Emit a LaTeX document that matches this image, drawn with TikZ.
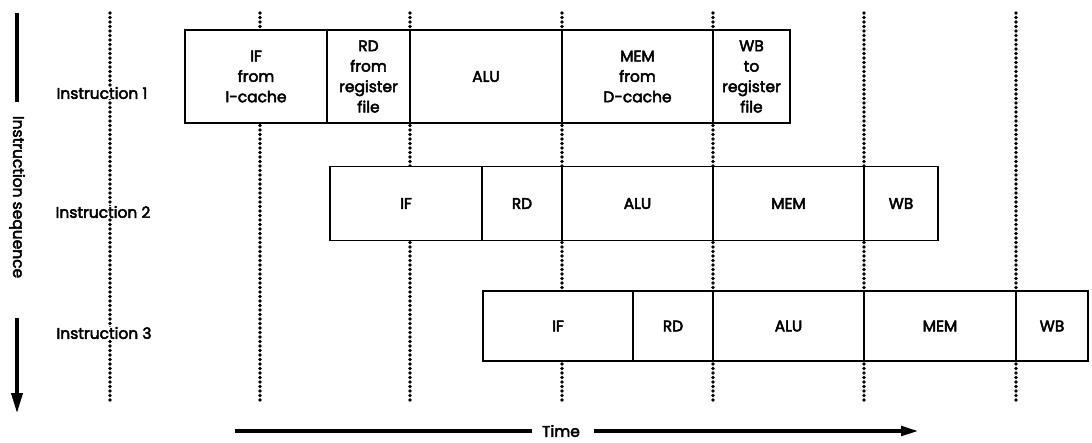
\documentclass[tikz,border=0pt]{standalone}
\usepackage{fontspec}
\setmainfont{Poppins}[FakeBold=3]
\usetikzlibrary{arrows.meta,positioning}

\begin{document}
\begin{tikzpicture}[x=0.025cm,y=-0.025cm,
  every node/.style={font=\fontsize{11}{14.5}\selectfont},
  stage/.style={draw, fill=white, line width=1.3pt, outer sep=0pt, inner sep=0pt, align=center},
  cellw/.style={minimum width=#1*0.025cm},
  cellh/.style={minimum height=#1*0.025cm},
  cut/.style={line width=2.6pt, line cap=round, dash pattern=on 0pt off 3.2pt},
  tag/.style={fill=white, inner sep=0pt},
  axis/.style={line width=2.2pt}
]
\useasboundingbox (0,0) rectangle (1092,442);

% Clock boundaries
\foreach \x in {110,260,410,562,713,864,1016}
{
\draw[cut] (\x,13) -- (\x,403);
}

% Instruction names
\node[tag] (ins1) at (102,93) {Instruction 1};
\node[tag] (ins2) at (103,212) {Instruction 2};
\node[tag] (ins3) at (104,333) {Instruction 3};

% Instruction 1
\node[stage, cellw=142, cellh=93, anchor=west] (if1) at (185,76.5) {IF\\from\\I-cache};
\node[stage, cellw=83, cellh=93, right=0pt of if1] (rd1) {RD\\from\\register\\file};
\node[stage, cellw=152, cellh=93, right=0pt of rd1] (alu1) {ALU};
\node[stage, cellw=151, cellh=93, right=0pt of alu1] (mem1) {MEM\\from\\D-cache};
\node[stage, cellw=77, cellh=93, right=0pt of mem1] (wb1) {WB\\to\\register\\file};

% Instruction 2
\node[stage, cellw=152, cellh=74, anchor=west] (if2) at (330,203.5) {IF};
\node[stage, cellw=80, cellh=74, right=0pt of if2] (rd2) {RD};
\node[stage, cellw=151, cellh=74, right=0pt of rd2] (alu2) {ALU};
\node[stage, cellw=151, cellh=74, right=0pt of alu2] (mem2) {MEM};
\node[stage, cellw=74, cellh=74, right=0pt of mem2] (wb2) {WB};

% Instruction 3
\node[stage, cellw=150, cellh=70, anchor=west] (if3) at (483,326) {IF};
\node[stage, cellw=80, cellh=70, right=0pt of if3] (rd3) {RD};
\node[stage, cellw=151, cellh=70, right=0pt of rd3] (alu3) {ALU};
\node[stage, cellw=152, cellh=70, right=0pt of alu3] (mem3) {MEM};
\node[stage, cellw=72, cellh=70, right=0pt of mem3] (wb3) {WB};

% Instruction sequence axis
\node[tag, rotate=-90] (seq) at (17,197) {Instruction sequence};
\coordinate (seqtop) at (17,13);
\coordinate (seqend) at (17,413);
\draw[axis, shorten >=0.33cm] (seqtop) -- (seq.west);
\draw[axis, shorten <=1cm, -{Triangle[length=0.5cm,width=0.28cm]}] (seq.east) -- (seqend);

% Time axis
\node[tag] (time) at (561,431) {Time};
\coordinate (timestart) at (235,431);
\coordinate (timeend) at (918,431);
\draw[axis, shorten >=0.25cm] (timestart) -- (time.west);
\draw[axis, shorten <=0.35cm, -{Triangle[length=0.42cm,width=0.24cm]}] (time.east) -- (timeend);

\end{tikzpicture}
\end{document}
